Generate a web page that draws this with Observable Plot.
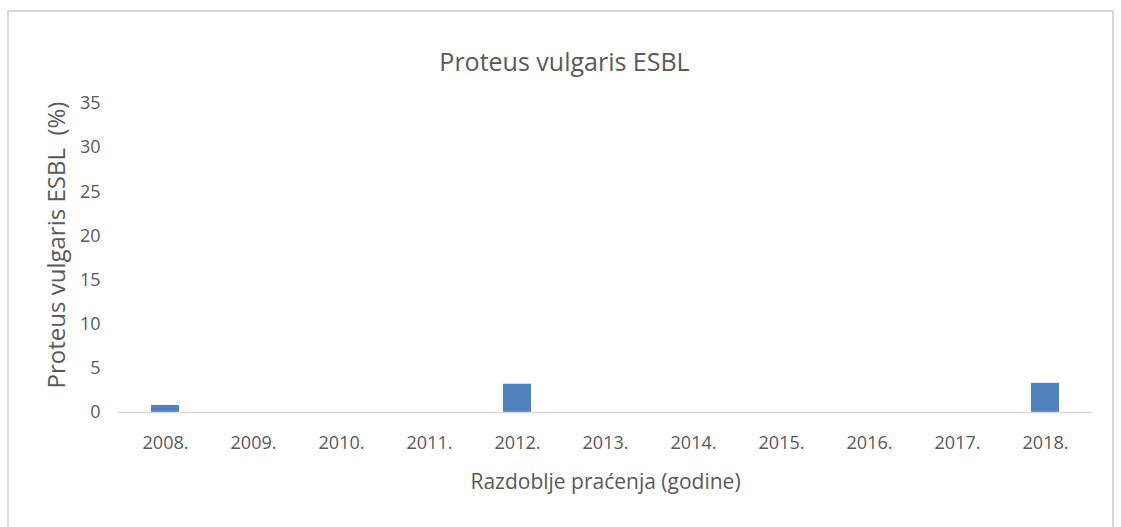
<!DOCTYPE html>
<html>
<head>
<meta charset="utf-8">
<script src="https://cdn.jsdelivr.net/npm/d3@7"></script>
<script src="https://cdn.jsdelivr.net/npm/@observablehq/plot@0.6"></script>
<style>
  html, body { margin: 0; padding: 0; background: #fff; }
  #wrap { position: relative; width: 1121px; height: 527px; overflow: hidden; }
  #frame { position: absolute; left: 7px; top: 10px; width: 1107px; height: 530px;
           border: 2px solid #d9d9d9; box-sizing: border-box; }
  #chart { position: absolute; left: 0; top: 0; }
</style>
</head>
<body>
<div id="wrap"><div id="frame"></div><div id="chart"></div></div>
<script>
const title = "Proteus vulgaris ESBL";
const xTitle = "Razdoblje praćenja (godine)";
const yTitle = "Proteus vulgaris ESBL  (%)";
const years = ["2008.", "2009.", "2010.", "2011.", "2012.", "2013.", "2014.", "2015.", "2016.", "2017.", "2018."];
const values = [0.8, 0, 0, 0, 3.2, 0, 0, 0, 0, 0, 3.3];
const yTicks = [0, 5, 10, 15, 20, 25, 30, 35];

const data = years.map((year, i) => ({year, value: values[i]}));
const textColor = "#595959";

const chart = Plot.plot({
  width: 1121,
  height: 527,
  marginLeft: 118,
  marginRight: 29,
  marginTop: 103,
  marginBottom: 115,
  style: {fontFamily: "'Open Sans', sans-serif", color: textColor, background: "transparent"},
  x: {domain: years, paddingInner: 0.68, paddingOuter: 0.34, label: null},
  y: {domain: [0, 35], label: null},
  marks: [
    Plot.barY(data, {x: "year", y: "value", fill: "#4f81bd"}),
    Plot.ruleY([0], {stroke: "#d9d9d9", strokeWidth: 1.5}),
    Plot.axisX({tickSize: 0, tickPadding: 24, fontSize: 18, label: null, fill: textColor}),
    Plot.axisY({ticks: yTicks, tickSize: 0, tickPadding: 18, fontSize: 18, label: null, fill: textColor}),
    Plot.text([title], {frameAnchor: "top", dx: -41, dy: -50, fontSize: 25, fill: textColor}),
    Plot.text([xTitle], {frameAnchor: "bottom", dy: 76, fontSize: 21, fill: textColor}),
    Plot.text([yTitle], {frameAnchor: "left", textAnchor: "middle", dx: -61, dy: -13, rotate: -90, fontSize: 24, fill: textColor})
  ]
});
document.getElementById("chart").appendChild(chart);
</script>
</body>
</html>
